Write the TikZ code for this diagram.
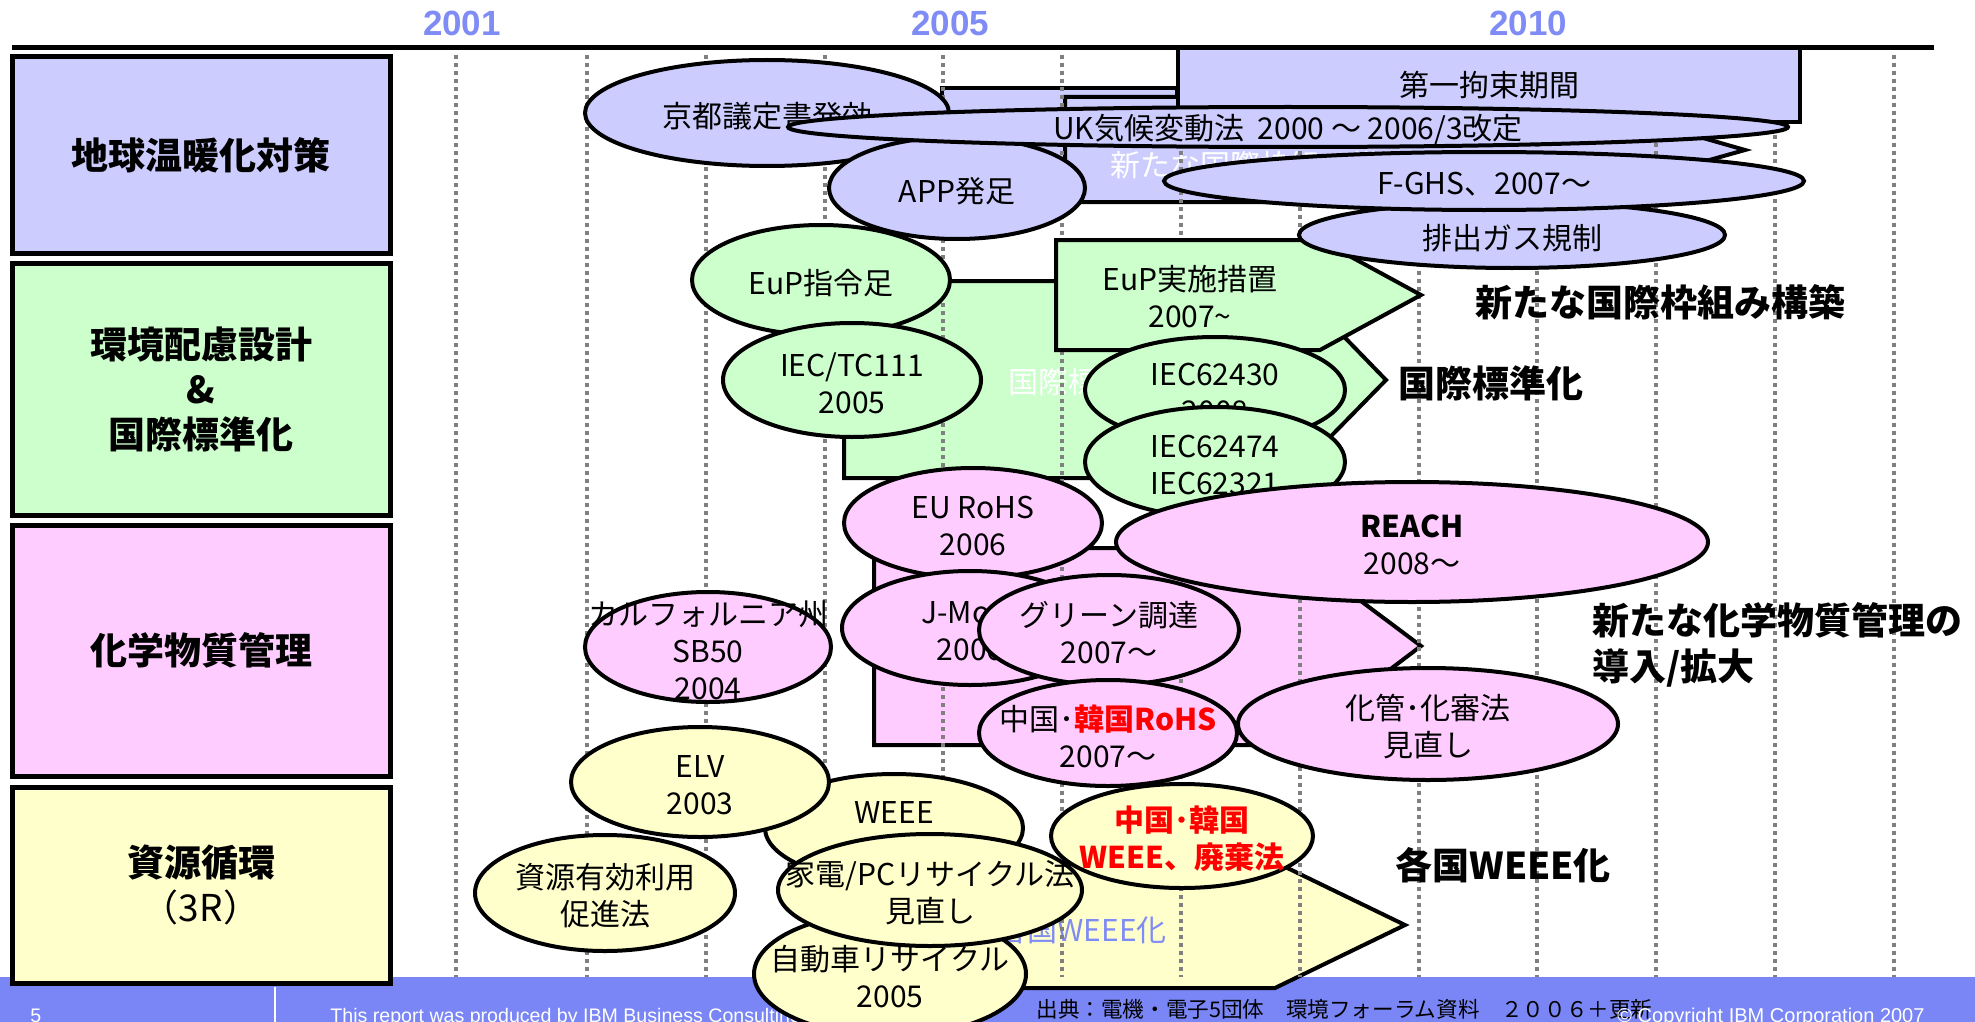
\documentclass[tikz,border=0pt]{standalone}
\usepackage{fontspec}
\setmainfont{Noto Sans CJK JP}
\newfontfamily\latinfont{Liberation Sans}
\usetikzlibrary{shapes.geometric}
\definecolor{climatefill}{RGB}{204,204,255}
\definecolor{designfill}{RGB}{204,255,204}
\definecolor{chemfill}{RGB}{255,204,255}
\definecolor{recyclefill}{RGB}{255,255,204}
\definecolor{yearblue}{RGB}{128,140,245}
\definecolor{footerblue}{RGB}{122,134,245}
\definecolor{gridgray}{RGB}{128,128,128}
\tikzstyle{catbox}=[rectangle, draw=black, line width=2.5pt, inner sep=0pt, align=center,
font=\fontsize{18.5}{22.5}\selectfont\bfseries]
\tikzstyle{event}=[ellipse, draw=black, line width=2pt, inner sep=0pt]
\tikzstyle{eventtext}=[align=center, inner sep=0pt, font=\fontsize{15}{18.5}\selectfont]
\tikzstyle{bigarrow}=[draw=black, line width=2pt, line join=miter]
\tikzstyle{trend}=[anchor=west, align=left, inner sep=0pt, font=\fontsize{18.5}{23}\selectfont\bfseries]
\tikzstyle{yearlabel}=[inner sep=0pt, text=yearblue, font=\latinfont\fontsize{17.5}{20}\selectfont\bfseries]
\tikzstyle{gridline}=[draw=gridgray, line width=1.6pt, dash pattern=on 2pt off 2pt]
\tikzstyle{footnote}=[anchor=base west, inner sep=0pt, text=white, font=\latinfont\fontsize{9.8}{11}\selectfont]
% ellipse with its text: name, centre, width, height, fill, text
\newcommand{\eventnode}[6]{%
  \node[event, fill=#5, minimum width=#3pt, minimum height=#4pt] (#1) at (#2) {};
  \node[eventtext, yshift=-1.5pt] (#1-text) at (#1.center) {#6};}

\begin{document}
\begin{tikzpicture}[x=0.5pt,y=-0.5pt]
\useasboundingbox (0,0) rectangle (1975,1022);

% footer
\fill[footerblue] (0,977) rectangle (1975,1022);
\draw[white, line width=1pt] (275,987) -- (275,1022);
\node[footnote] (pageno) at (30,1022) {5};
\node[footnote] (report) at (330,1022) {This report was produced by IBM Business Consulting};
\node[anchor=base west, inner sep=0pt, font=\fontsize{10.8}{12}\selectfont] (source) at (1036,1017)
  {出典：電機・電子5団体　環境フォーラム資料　２００６＋更新};
\node[footnote, font=\latinfont\fontsize{10}{12}\selectfont] (copyright) at (1617,1022)
  {© Copyright IBM Corporation 2007};

% categories
\node[catbox, fill=climatefill, minimum width=189pt, minimum height=98pt] (climate) at (201,155) {地球温暖化対策};
\node[catbox, fill=designfill, minimum width=189pt, minimum height=126pt] (design) at (201,389)
  {環境配慮設計\\\&\\国際標準化};
\node[catbox, fill=chemfill, minimum width=189pt, minimum height=125.5pt] (chemical) at (201,650.5) {化学物質管理};
\node[catbox, fill=recyclefill, minimum width=189pt, minimum height=98pt] (recycle) at (201,885)
  {資源循環\\{\mdseries （3R）}};

% time axis
\draw[line width=2.5pt] (12,48) -- (1934,48);
\node[yearlabel] (year2001) at (462,23) {2001};
\node[yearlabel] (year2005) at (950,23) {2005};
\node[yearlabel] (year2010) at (1528,23) {2010};

% big arrows
\filldraw[bigarrow, fill=climatefill] (942,88) rectangle (1177,190);
\filldraw[bigarrow, fill=climatefill] (1065,97) -- (1560,97) -- (1745,150) -- (1560,202) -- (1065,202) -- cycle;
\node[eventtext, text=white, anchor=west] (framework-text) at (1110,165) {新たな国際枠組み構築};
\filldraw[bigarrow, fill=designfill] (844,281) -- (1290,281) -- (1386,380) -- (1290,478) -- (844,478) -- cycle;
\node[eventtext, text=white, anchor=west] (standard-text) at (1008,382) {国際標準化};
\filldraw[bigarrow, fill=chemfill] (874,548) -- (1290,548) -- (1421,646) -- (1290,745) -- (874,745) -- cycle;
\filldraw[bigarrow, fill=recyclefill] (950,862) -- (1275,862) -- (1405,925) -- (1275,988) -- (950,988) -- cycle;
\node[eventtext, text=yearblue, anchor=west] (weee-text) at (997,930) {各国WEEE化};

% year grid
\foreach \gx in {456,587,706,825,943,1062,1181,1300,1419,1537,1656,1775,1894}
  \draw[gridline] (\gx,55) -- (\gx,977);

% EuP measures
\filldraw[bigarrow, fill=designfill] (1056,240) -- (1320,240) -- (1421,295) -- (1320,350) -- (1056,350) -- cycle;
\node[eventtext] (eupmeasure-text) at (1190,297) {EuP実施措置\\2007\textasciitilde};

% climate events
\node[rectangle, draw=black, line width=2pt, fill=climatefill, inner sep=0pt, minimum width=311pt,
  minimum height=37pt, font=\fontsize{15}{18.5}\selectfont] (period) at (1489,85) {第一拘束期間};
\eventnode{kyoto}{767,113}{182}{53}{climatefill}{京都議定書発効}
\eventnode{app}{957,188}{128}{51}{climatefill}{APP発足}
\eventnode{ukact}{1288,127}{500}{20}{climatefill}{UK気候変動法\ \ 2000 ～ 2006/3改定}
\eventnode{exhaust}{1512,235}{213}{33}{climatefill}{排出ガス規制}
\eventnode{fghs}{1484,181}{320}{29}{climatefill}{F-GHS、2007～}

% design and standards events
\eventnode{eupdir}{821,280}{129}{55}{designfill}{EuP指令足}
\eventnode{iectc}{852,380}{129}{57}{designfill}{IEC/TC111\\2005}
\eventnode{iecA}{1215,390}{130}{53}{designfill}{IEC62430\\2008}
\eventnode{iecB}{1215,462}{130}{55}{designfill}{IEC62474\\IEC62321}

% chemical events
\eventnode{eurohs}{973,523}{129}{55}{chemfill}{EU RoHS\\2006}
\eventnode{reach}{1412,542}{296}{60}{chemfill}{\textbf{REACH}\\2008～}
\eventnode{california}{708,647}{123}{55}{chemfill}{カルフォルニア州\\SB50\\2004}
\eventnode{jmoss}{970,628}{128}{57}{chemfill}{J-Moss\\2006}
\eventnode{greenproc}{1109,630}{130}{55}{chemfill}{グリーン調達\\2007～}
\eventnode{cnrohs}{1108,733}{129}{53}{chemfill}{中国･{\color{red}\bfseries 韓国RoHS}\\2007～}
\eventnode{kakan}{1428,724}{190}{56}{chemfill}{化管･化審法\\見直し}

% recycling events
\eventnode{weee}{894,828}{129}{54}{recyclefill}{WEEE\\2005}
\eventnode{elv}{700,782}{129}{55}{recyclefill}{ELV\\2003}
\eventnode{shigen}{605,893}{130}{58}{recyclefill}{資源有効利用\\促進法}
\eventnode{jidosha}{890,974}{136}{62}{recyclefill}{自動車リサイクル\\2005}
\eventnode{kaden}{930,890}{152}{56}{recyclefill}{家電/PCリサイクル法\\見直し}
\eventnode{cnweee}{1182,836}{131}{52}{recyclefill}{\color{red}\bfseries 中国･韓国\\\color{red}\bfseries WEEE、廃棄法}

% trends
\node[trend] (trend-climate) at (1475,302) {新たな国際枠組み構築};
\node[trend] (trend-design) at (1398,383) {国際標準化};
\node[trend] (trend-chemical) at (1592,645) {新たな化学物質管理の\\導入/拡大};
\node[trend] (trend-recycle) at (1395,865) {各国WEEE化};
\end{tikzpicture}
\end{document}
